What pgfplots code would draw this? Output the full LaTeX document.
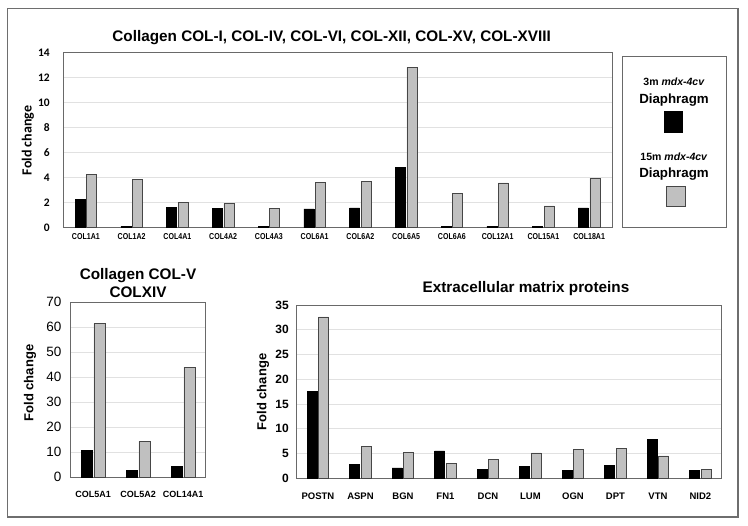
\documentclass[border=0pt]{standalone}
\usepackage{pgfplots}
\pgfplotsset{compat=1.18}
\usepackage{fontspec}
\setmainfont{Liberation Sans}
\newfontfamily\cond[FakeStretch=0.82]{Liberation Sans}
\newfontfamily\carl{Carlito}
\definecolor{barg}{RGB}{192,192,192}
\definecolor{edge}{RGB}{70,70,70}
\definecolor{axc}{RGB}{105,105,105}
\definecolor{gridc}{RGB}{225,225,225}
\definecolor{framec}{RGB}{110,110,110}

\pgfplotstableread{
x black gray
0 2.25 4.28
1 0.10 3.88
2 1.63 2.00
3 1.53 1.95
4 0.10 1.55
5 1.50 3.61
6 1.58 3.69
7 4.84 12.82
8 0.10 2.73
9 0.10 3.59
10 0.10 1.74
11 1.58 3.96
}\topdata
\pgfplotstableread{
x black gray
0 10.7 61.5
1 2.8 14.4
2 4.4 44.0
}\bldata
\pgfplotstableread{
x black gray
0 17.57 32.60
1 2.83 6.40
2 2.09 5.25
3 5.52 2.96
4 1.75 3.84
5 2.42 5.12
6 1.62 5.86
7 2.56 6.06
8 7.81 4.51
9 1.62 1.75
}\brdata

\pgfplotsset{
  mybar/.style={
    scale only axis, ybar=1.5pt, bar width=10pt, ymin=0,
    axis line style={axc, line width=0.9pt},
    ymajorgrids, grid style={gridc, line width=0.8pt},
    major tick length=0pt, xtick=data,
    /pgf/number format/assume math mode=true,
    yticklabel style={anchor=east, inner sep=0pt},
    xticklabel style={anchor=base, inner sep=0pt},
  },
  blk/.style={fill=black, draw=black, line width=0.5pt},
  gry/.style={fill=barg, draw=edge, line width=0.6pt},
}

\begin{document}
\begin{tikzpicture}
\useasboundingbox (0,0) rectangle (748pt,-526pt);
\draw[framec, line width=1.2pt] (7.5pt,-8.5pt) rectangle (738pt,-517pt);

% Top chart
\begin{axis}[mybar, at={(63pt,-227.7pt)}, anchor=south west,
  width=549pt, height=175pt, xmin=-0.5, xmax=11.5, ymax=14, ytick={0,2,...,14},
  yticklabel style={font=\carl\bfseries\fontsize{11.5}{13}\selectfont, xshift=-13pt},
  xticklabel style={font=\cond\bfseries\fontsize{8.6}{10}\selectfont, yshift=-11.6pt},
  xticklabels={COL1A1,COL1A2,COL4A1,COL4A2,COL4A3,COL6A1,COL6A2,COL6A5,COL6A6,COL12A1,COL15A1,COL18A1}]
\addplot[blk] table[x=x,y=black]{\topdata};
\addplot[gry] table[x=x,y=gray]{\topdata};
\end{axis}
\node[anchor=base, font=\bfseries\fontsize{15.3}{18}\selectfont] at (331.6pt,-42pt) {Collagen COL-I, COL-IV, COL-VI, COL-XII, COL-XV, COL-XVIII};
\node[rotate=90, font=\carl\bfseries\fontsize{14}{16}\selectfont] at (28pt,-140.5pt) {Fold change};

% Legend box
\draw[axc, line width=0.9pt] (622pt,-56pt) rectangle (726pt,-227pt);
\node[anchor=base, font=\bfseries\fontsize{10.5}{12}\selectfont] at (674pt,-86pt) {3m \textit{mdx-4cv}};
\node[anchor=base, font=\bfseries\fontsize{13.3}{15}\selectfont] at (674pt,-103.3pt) {Diaphragm};
\fill[black] (663.5pt,-111pt) rectangle (683pt,-133pt);
\node[anchor=base, font=\bfseries\fontsize{10.5}{12}\selectfont] at (674pt,-160.7pt) {15m \textit{mdx-4cv}};
\node[anchor=base, font=\bfseries\fontsize{13.3}{15}\selectfont] at (674pt,-177.3pt) {Diaphragm};
\filldraw[fill=barg, draw=edge, line width=0.7pt] (666pt,-186pt) rectangle (685.5pt,-206.5pt);

% Bottom left chart
\begin{axis}[mybar, at={(70.7pt,-477.3pt)}, anchor=south west,
  width=135pt, height=175pt, xmin=-0.5, xmax=2.5, ymax=70, ytick={0,10,...,70},
  bar width=11pt,
  yticklabel style={font=\fontsize{13.5}{15}\selectfont, xshift=-9pt},
  xticklabel style={font=\bfseries\fontsize{9}{10}\selectfont, yshift=-20pt},
  xticklabels={COL5A1,COL5A2,COL14A1}]
\addplot[blk] table[x=x,y=black]{\bldata};
\addplot[gry] table[x=x,y=gray]{\bldata};
\end{axis}
\node[anchor=base, font=\bfseries\fontsize{15.3}{18}\selectfont] at (138pt,-280pt) {Collagen COL-V};
\node[anchor=base, font=\bfseries\fontsize{15.3}{18}\selectfont] at (138pt,-298pt) {COLXIV};
\node[rotate=90, font=\bfseries\fontsize{13}{15}\selectfont] at (30pt,-383pt) {Fold change};

% Bottom right chart
\begin{axis}[mybar, at={(296.7pt,-478.3pt)}, anchor=south west,
  width=425pt, height=173.3pt, xmin=-0.5, xmax=9.5, ymax=35, ytick={0,5,...,35},
  yticklabel style={font=\bfseries\fontsize{12}{14}\selectfont, xshift=-7.7pt},
  xticklabel style={font=\bfseries\fontsize{9.5}{11}\selectfont, yshift=-21pt},
  xticklabels={POSTN,ASPN,BGN,FN1,DCN,LUM,OGN,DPT,VTN,NID2}]
\addplot[blk] table[x=x,y=black]{\brdata};
\addplot[gry] table[x=x,y=gray]{\brdata};
\end{axis}
\node[anchor=base, font=\bfseries\fontsize{15.3}{18}\selectfont] at (526pt,-293pt) {Extracellular matrix proteins};
\node[rotate=90, font=\bfseries\fontsize{13}{15}\selectfont] at (263pt,-392pt) {Fold change};
\end{tikzpicture}
\end{document}
